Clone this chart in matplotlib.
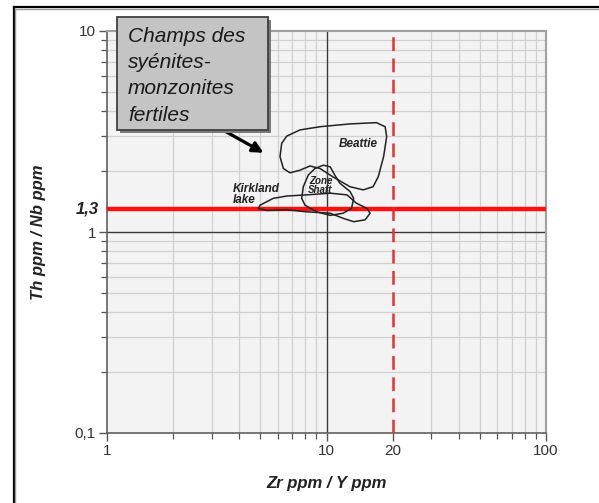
import matplotlib
matplotlib.use("Agg")
import matplotlib.pyplot as plt
from matplotlib.patches import Rectangle
from matplotlib.lines import Line2D
from matplotlib.ticker import LogLocator, NullFormatter

plt.rcParams['font.family'] = ['Liberation Sans', 'DejaVu Sans']

# Contours des champs (Zr/Y, Th/Nb)
beattie_x = [6.25, 6.59, 7.57, 9.34, 12.8, 16.9, 18.5, 18.8, 18.2, 17.2, 16.3, 14.7, 12.8, 10.7, 9.34, 8.41, 7.57, 6.82, 6.36, 6.14]
beattie_y = [2.76, 3.00, 3.22, 3.34, 3.45, 3.50, 3.34, 2.98, 2.37, 1.88, 1.68, 1.62, 1.68, 1.88, 2.07, 2.13, 2.03, 1.97, 2.07, 2.37]

shaft_x = [8.26, 8.86, 9.67, 10.4, 10.9, 11.5, 12.8, 13.3, 13.0, 11.9, 10.4, 9.02, 7.98, 7.71, 7.84]
shaft_y = [1.92, 2.07, 2.15, 2.11, 1.92, 1.75, 1.59, 1.47, 1.31, 1.24, 1.21, 1.26, 1.36, 1.47, 1.68]

kirkland_x = [4.89, 4.98, 5.72, 6.59, 8.12, 10.4, 12.4, 13.7, 15.3, 15.8, 15.0, 13.3, 11.9, 10.4, 8.12, 6.59, 5.34]
kirkland_y = [1.31, 1.36, 1.47, 1.51, 1.53, 1.56, 1.53, 1.39, 1.31, 1.24, 1.15, 1.125, 1.17, 1.24, 1.26, 1.29, 1.28]

seuil_th_nb = 1.3
seuil_zr_y = 20

xticks = [1, 10, 20, 100]
xtick_labels = ['1', '10', '20', '100']
yticks = [0.1, 1, 10]
ytick_labels = ['0,1', '1', '10']

W, H = 599, 503
fig = plt.figure(figsize=(W / 100, H / 100), dpi=100)
ax = fig.add_axes([107 / W, 1 - 433 / H, 439 / W, 402 / H])
ax.set_xscale('log')
ax.set_yscale('log')
ax.set_xlim(1, 100)
ax.set_ylim(0.1, 10)
ax.set_facecolor('#f3f3f3')
ax.set_axisbelow(True)

# grille
ax.xaxis.set_minor_locator(LogLocator(base=10, subs=range(2, 10)))
ax.yaxis.set_minor_locator(LogLocator(base=10, subs=range(2, 10)))
ax.xaxis.set_minor_formatter(NullFormatter())
ax.yaxis.set_minor_formatter(NullFormatter())
ax.grid(which='minor', color='#d0d0d0', lw=0.9)
ax.axvline(10, color='#3a3a3a', lw=1.0, zorder=1)
ax.axhline(1, color='#3a3a3a', lw=1.0, zorder=1)

ax.set_xticks(xticks)
ax.set_xticklabels(xtick_labels)
ax.set_yticks(yticks)
ax.set_yticklabels(ytick_labels)
ax.tick_params(which='major', direction='out', length=6, width=1, color='#555555',
               labelsize=11, labelcolor='#333333', pad=2)
ax.tick_params(which='minor', direction='out', length=4.5, width=0.9, color='#555555')

for s in ['left', 'bottom']:
    ax.spines[s].set_color('#606060')
    ax.spines[s].set_linewidth(1.2)
for s in ['top', 'right']:
    ax.spines[s].set_color('#a0a0a0')
    ax.spines[s].set_linewidth(1.5)

# seuils
ax.axhline(seuil_th_nb, color='#ff1010', lw=3.2, zorder=3)
ax.axvline(seuil_zr_y, color='#e83030', lw=1.8, dashes=(5.5, 3), zorder=3)

# champs
for xs, ys in [(beattie_x, beattie_y), (shaft_x, shaft_y), (kirkland_x, kirkland_y)]:
    ax.fill(xs, ys, fill=False, ec='#222222', lw=1.1, joinstyle='round', zorder=4)

lab = dict(fontsize=8.5, fontweight='bold', style='italic', color='#222222', zorder=5)
ax.text(13.9, 2.74, 'Beattie', ha='center', va='center', **lab)
ax.text(9.39, 1.70, 'Zone\nShaft', ha='center', va='center', linespacing=0.95,
        **{**lab, 'fontsize': 7})
ax.text(3.76, 1.54, 'Kirkland\nlake', ha='left', va='center', linespacing=0.95, **lab)

ax.annotate('', xy=(5.3, 2.44), xytext=(3.3, 3.26),
            arrowprops=dict(arrowstyle='-|>', lw=2.3, color='black', mutation_scale=16),
            zorder=6)

# valeur seuil 1,3
ax.text(-0.018, seuil_th_nb, '1,3', transform=ax.get_yaxis_transform(),
        ha='right', va='center', fontsize=12, fontweight='bold', style='italic', color='#222222')

ax.set_xlabel('Zr ppm / Y ppm', fontsize=12, fontweight='bold', style='italic', color='#222222')
ax.set_ylabel('Th ppm / Nb ppm', fontsize=12, fontweight='bold', style='italic', color='#222222')
ax.xaxis.set_label_coords(0.5, -0.106)
ax.yaxis.set_label_coords(-0.138, 0.5)

# encadré
bx0, by0, bw, bh = 116.7 / W, 1 - 130 / H, 151.6 / W, 112.7 / H
fig.patches.append(Rectangle((bx0 + 3 / W, by0 - 3 / H), bw, bh, transform=fig.transFigure,
                             fc='#7a7a7a', ec='none', zorder=1))
fig.patches.append(Rectangle((bx0, by0), bw, bh, transform=fig.transFigure,
                             fc='#c4c4c4', ec='#404040', lw=1.3, zorder=2))
for txt, yb in zip(['Champs des', 'syénites-', 'monzonites', 'fertiles'], [41.7, 68.1, 94.5, 120.9]):
    fig.text(128 / W, 1 - yb / H, txt, ha='left', va='baseline', fontsize=15,
             style='italic', color='#1a1a1a', zorder=3)

# cadre extérieur
fig.add_artist(Line2D([13.5 / W, 13.5 / W], [0, 1 - 7.3 / H], transform=fig.transFigure, color='black', lw=1.6))
fig.add_artist(Line2D([15.3 / W, 15.3 / W], [0, 1 - 9.3 / H], transform=fig.transFigure, color='#9a9a9a', lw=1.0))
fig.add_artist(Line2D([13.5 / W, 1], [1 - 7.3 / H, 1 - 7.3 / H], transform=fig.transFigure, color='black', lw=1.6))
fig.add_artist(Line2D([15.3 / W, 1], [1 - 9.3 / H, 1 - 9.3 / H], transform=fig.transFigure, color='#9a9a9a', lw=1.0))

fig.savefig('out.png', dpi=100)
